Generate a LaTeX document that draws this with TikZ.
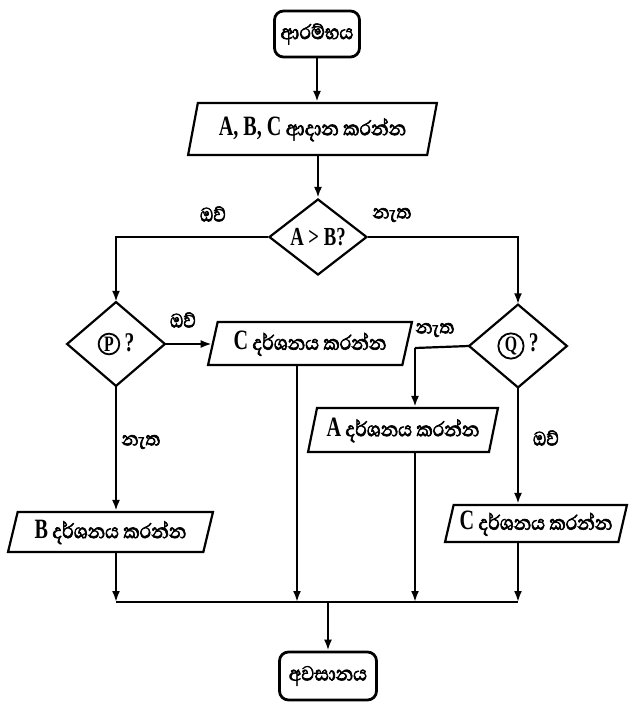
\documentclass[tikz,border=0pt]{standalone}
\usepackage{fontspec}
\setmainfont{Abhaya Libre}[Script=Sinhala, FakeStretch=0.88, FakeBold=2.5]
\newfontfamily\lat{Liberation Serif}[FakeStretch=0.72]
\usetikzlibrary{shapes.geometric,arrows.meta}
\newcommand{\circlet}[2]{\tikz[baseline=(#1.base)]\node[circle,draw,minimum size=0pt,minimum width=0pt,minimum height=0pt,line width=1.8pt,inner sep=1.2pt,font=\lat\bfseries\fontsize{22}{22}\selectfont] (#1) {#2};}
\begin{document}
\begin{tikzpicture}[x=1pt,y=-1pt, line width=2.2pt,
  every node/.style={font=\fontsize{26}{27}\selectfont},
  term/.style={draw, rounded corners=9pt, line width=2.8pt, minimum width=#1, minimum height=46pt, inner sep=1pt},
  io/.style={draw, trapezium, trapezium left angle=72, trapezium right angle=108, trapezium stretches=true, minimum width=#1, inner sep=0pt},
  dec/.style={draw, diamond, minimum width=98pt, minimum height=82pt, inner sep=0pt},
  lbl/.style={font=\fontsize{25}{26}\selectfont, inner sep=0pt},
  arr/.style={-{Latex[length=11pt,width=8pt]}}
]
\useasboundingbox (0,0) rectangle (629,704);
% nodes
\node[term=85pt] (start) at (317,34) {ආරම්භය};
\node[io=249pt, minimum height=52pt] (in) at (312.5,129) {{\lat\bfseries\fontsize{28}{28}\selectfont A, B, C} ආදාන කරන්න};
\node[dec, minimum height=76pt] (ab) at (318,237) {{\lat\bfseries\fontsize{26}{26}\selectfont A > B?}};
\node[dec, minimum height=84pt] (p) at (116,344) {\circlet{pc}{P}\,{\lat\bfseries\fontsize{27}{27}\selectfont ?}};
\node[dec, minimum height=83pt] (q) at (518,346) {\circlet{qc}{Q}\,{\lat\bfseries\fontsize{27}{27}\selectfont ?}};
\node[io=204pt, minimum height=43pt] (c1) at (310,343.5) {{\lat\bfseries\fontsize{28}{28}\selectfont C} දර්ශනය කරන්න};
\node[io=190pt, minimum height=44pt] (a) at (403,430) {{\lat\bfseries\fontsize{28}{28}\selectfont A} දර්ශනය කරන්න};
\node[io=205pt, minimum height=40pt] (b) at (110.5,532) {{\lat\bfseries\fontsize{28}{28}\selectfont B} දර්ශනය කරන්න};
\node[io=182pt, minimum height=37pt] (c2) at (536,523.5) {{\lat\bfseries\fontsize{28}{28}\selectfont C} දර්ශනය කරන්න};
\node[term=97pt, minimum height=48pt] (end) at (328,676) {අවසානය};
% labels
\node[lbl] (y1) at (213,214) {ඔව්};
\node[lbl] (n1) at (392,215) {නැත};
\node[lbl] (y2) at (183,320) {ඔව්};
\node[lbl] (n2) at (141,442) {නැත};
\node[lbl] (n3) at (435,330) {නැත};
\node[lbl] (y3) at (546,438) {ඔව්};
% merge coordinates
\coordinate (m1) at (116,602);
\coordinate (m2) at (297,602);
\coordinate (m3) at (415,602);
\coordinate (m4) at (518,602);
\coordinate (mc) at (328,602);
\coordinate (ca) at (415,348);
% connectors
\draw[arr] (start.south) -- (start.south |- in.north);
\draw[arr] (in.south -| ab.north) -- (ab.north);
\draw[arr] (ab.west) -| (p.north);
\draw[arr] (ab.east) -| (q.north);
\draw[arr] (p.east) -- (p.east -| c1.west);
\draw[arr] (p.south) -- (p.south |- b.north);
\draw (q.west) -- (ca);
\draw[arr] (ca) -- (ca |- a.north);
\draw[arr] (q.south) -- (q.south |- c2.north);
\draw[arr] (m1 |- b.south) -- (m1);
\draw[arr] (m2 |- c1.south) -- (m2);
\draw[arr] (m3 |- a.south) -- (m3);
\draw[arr] (m4 |- c2.south) -- (m4);
\draw (m1) -- (m4);
\draw[arr] (mc) -- (end.north);
\end{tikzpicture}
\end{document}
